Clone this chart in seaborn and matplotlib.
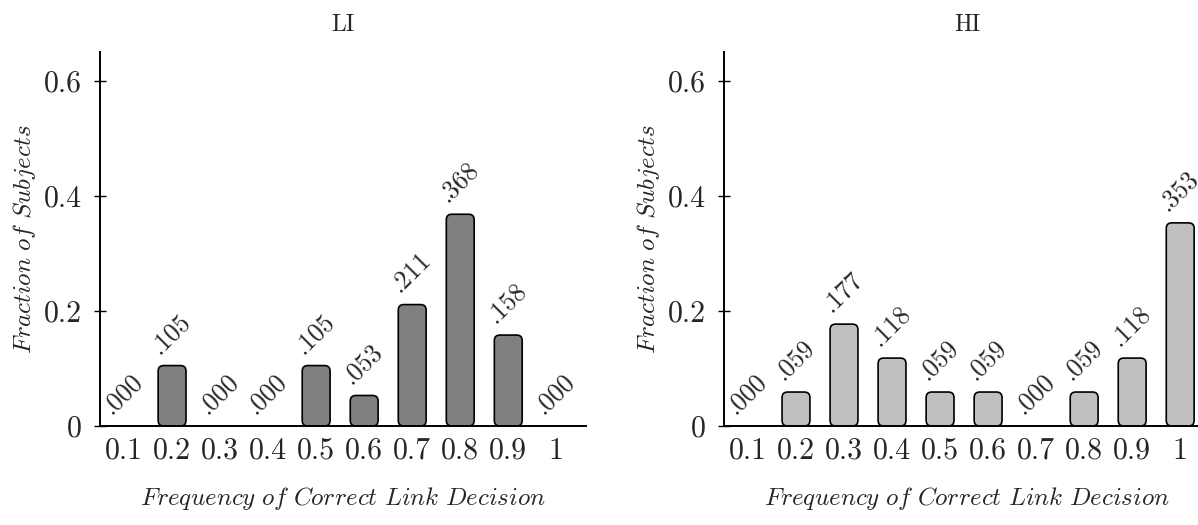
import matplotlib
matplotlib.use("Agg")
import matplotlib.pyplot as plt
import seaborn as sns
import pandas as pd
from matplotlib.patches import FancyBboxPatch
from matplotlib.ticker import FuncFormatter

categories = ["0.1", "0.2", "0.3", "0.4", "0.5", "0.6", "0.7", "0.8", "0.9", "1"]
li_values = [0.000, 0.105, 0.000, 0.000, 0.105, 0.053, 0.211, 0.368, 0.158, 0.000]
hi_values = [0.000, 0.059, 0.177, 0.118, 0.059, 0.059, 0.000, 0.059, 0.118, 0.353]
panel_titles = ["LI", "HI"]
y_ticks = [0, 0.2, 0.4, 0.6]
x_label = r"$\mathit{Frequency\ of\ Correct\ Link\ Decision}$"
y_label = r"$\mathit{Fraction\ of\ Subjects}$"

sns.set_theme(style="white")
plt.rcParams["mathtext.fontset"] = "cm"
plt.rcParams["font.family"] = ["cmr10", "DejaVu Serif"]
plt.rcParams["axes.formatter.use_mathtext"] = True

fig = plt.figure(figsize=(11.98, 5.25), dpi=100)
ax_l = fig.add_axes([0.0835, 0.1886, 0.4057, 0.7124])
ax_r = fig.add_axes([0.6043, 0.1886, 0.4057, 0.7124])

panels = [(ax_l, li_values, "#808080", panel_titles[0]),
          (ax_r, hi_values, "#c0c0c0", panel_titles[1])]

for ax, vals, color, title in panels:
    df = pd.DataFrame({"freq": categories, "frac": vals})
    sns.barplot(data=df, x="freq", y="frac", order=categories, ax=ax,
                color=color, saturation=1, width=0.58,
                edgecolor="black", linewidth=1.2)
    ax.set_xlim(-0.5, 9.62)
    ax.set_ylim(0, 0.65)
    fig.canvas.draw()
    p0 = ax.transData.transform((0, 0))
    p1 = ax.transData.transform((1, 1))
    xpp = 1.0 / (p1[0] - p0[0])
    ypp = 1.0 / (p1[1] - p0[1])
    rad_px = 5.5
    for patch in list(ax.patches):
        x, y = patch.get_x(), patch.get_y()
        w, h = patch.get_width(), patch.get_height()
        patch.remove()
        if h <= 0:
            continue
        fb = FancyBboxPatch((x, y), w, h,
                            boxstyle=f"round,pad=0,rounding_size={rad_px * xpp}",
                            mutation_aspect=ypp / xpp,
                            facecolor=color, edgecolor="black", linewidth=1.2,
                            zorder=2, clip_on=False)
        ax.add_patch(fb)
    for i, v in enumerate(vals):
        ax.annotate(f"{v:.3f}"[1:], xy=(i, v), xytext=(-9.0, 8.0),
                    textcoords="offset points", rotation=45,
                    rotation_mode="anchor", ha="left", va="baseline",
                    fontsize=18.5, family="cmr10", annotation_clip=False)
    ax.set_yticks(y_ticks)
    ax.yaxis.set_major_formatter(FuncFormatter(lambda v, p: "0" if v == 0 else f"{v:.1f}"))
    ax.tick_params(axis="y", direction="inout", length=8.5, width=1.0,
                   labelsize=21.5, pad=9, left=True, color="black")
    ax.tick_params(axis="x", length=0, labelsize=21.5, pad=8)
    for lab in ax.get_xticklabels() + ax.get_yticklabels():
        lab.set_family("cmr10")
    sns.despine(ax=ax)
    for s in ["left", "bottom"]:
        ax.spines[s].set_linewidth(1.4)
        ax.spines[s].set_color("black")
        ax.spines[s].set_zorder(3)
    ax.set_xlabel(x_label, fontsize=18, labelpad=15)
    ax.set_ylabel(y_label, fontsize=18, labelpad=4)
    ax.set_title(title, fontsize=17, family="cmr10", pad=15)
    ax.grid(False)

fig.savefig("out.png", dpi=100)
